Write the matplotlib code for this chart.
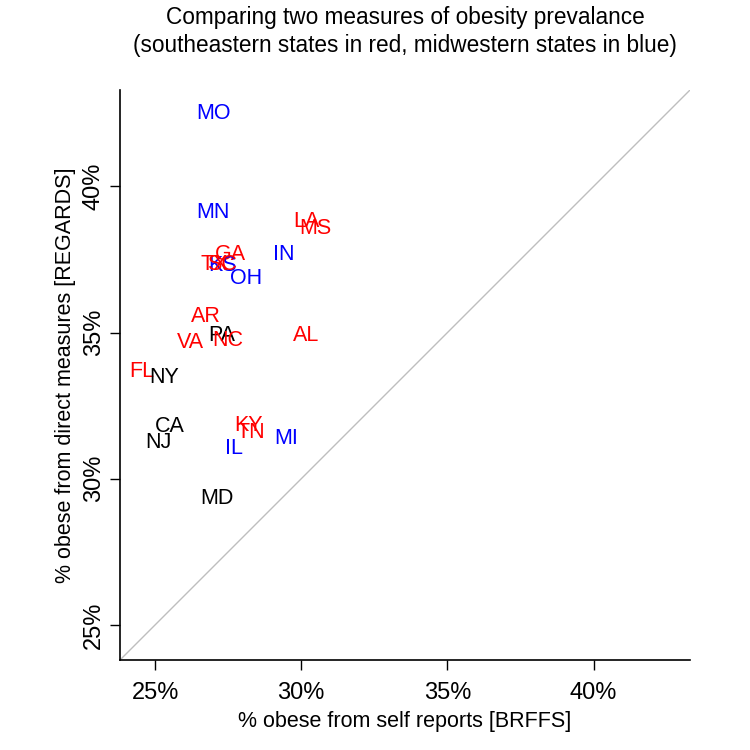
import matplotlib
matplotlib.use("Agg")
import matplotlib.pyplot as plt

plt.rcParams['font.family'] = ['Liberation Sans', 'DejaVu Sans']

# estados e valores (% obesos)
states = ['MO', 'MN', 'LA', 'MS', 'IN', 'GA', 'KS', 'TX', 'SC', 'OH',
          'AR', 'VA', 'PA', 'NC', 'AL', 'FL', 'NY', 'CA', 'NJ', 'KY',
          'TN', 'IL', 'MI', 'MD']
brfss = [27.01, 26.97, 30.17, 30.48, 29.39, 27.59, 27.32, 27.04, 27.28, 28.10,
         26.73, 26.22, 27.28, 27.48, 30.17, 24.56, 25.31, 25.51, 25.10, 28.20,
         28.27, 27.69, 29.49, 27.11]
regards = [42.57, 39.18, 38.87, 38.66, 37.77, 37.77, 37.38, 37.40, 37.40, 36.92,
           35.62, 34.76, 34.97, 34.83, 35.00, 33.77, 33.56, 31.88, 31.34, 31.92,
           31.68, 31.13, 31.47, 29.42]
region = ['mw', 'mw', 'se', 'se', 'mw', 'se', 'mw', 'se', 'se', 'mw',
          'se', 'se', 'other', 'se', 'se', 'se', 'other', 'other', 'other', 'se',
          'se', 'mw', 'mw', 'other']

color_map = {'se': 'red', 'mw': 'blue', 'other': 'black'}
ticks = [25, 30, 35, 40]
lims = (23.8, 43.3)

fig = plt.figure(figsize=(7.5, 7.5), dpi=100)
ax = fig.add_axes([0.16, 0.12, 0.76, 0.76])

# linha y = x
ax.plot(lims, lims, color='#BEBEBE', lw=1)

for s, x, y, r in zip(states, brfss, regards, region):
    ax.text(x, y, s, color=color_map[r], fontsize=15.5, ha='center',
            va='center_baseline')

ax.set_xlim(lims)
ax.set_ylim(lims)
ax.set_xticks(ticks)
ax.set_yticks(ticks)
ax.set_xticklabels([f'{t}%' for t in ticks], fontsize=17)
ax.set_yticklabels([f'{t}%' for t in ticks], fontsize=17, rotation=90, va='center')
ax.tick_params(axis='both', direction='out', length=7, width=1)
ax.tick_params(axis='x', pad=9)
ax.tick_params(axis='y', pad=4)

ax.spines['top'].set_visible(False)
ax.spines['right'].set_visible(False)
ax.spines['left'].set_linewidth(1.2)
ax.spines['bottom'].set_linewidth(1.2)

ax.set_xlabel('% obese from self reports [BRFFS]', fontsize=15.5, labelpad=5)
ax.set_ylabel('% obese from direct measures [REGARDS]', fontsize=15.5, labelpad=5)

fig.text(0.54, 0.958, 'Comparing two measures of obesity prevalance\n'
         '(southeastern states in red, midwestern states in blue)',
         ha='center', va='center', fontsize=16.3, linespacing=1.3)

fig.savefig('out.png', dpi=100)
